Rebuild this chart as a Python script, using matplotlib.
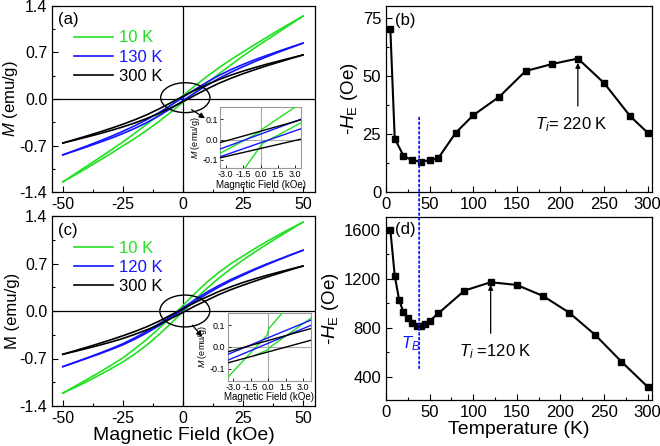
import matplotlib
matplotlib.use('Agg')
import matplotlib.pyplot as plt
from matplotlib.patches import Ellipse, ConnectionPatch
from matplotlib.ticker import MultipleLocator, FormatStrFormatter

plt.rcParams['font.family'] = ['Liberation Sans', 'DejaVu Sans']
plt.rcParams['mathtext.fontset'] = 'custom'
plt.rcParams['mathtext.rm'] = 'Liberation Sans'
plt.rcParams['mathtext.it'] = 'Liberation Sans:italic'
plt.rcParams['mathtext.bf'] = 'Liberation Sans:bold'
plt.rcParams['axes.unicode_minus'] = False

GREEN = '#22e022'
BLUE = '#1414ff'
BLACK = '#000000'

# ---------------- data: hysteresis loops (main panels) ----------------
H_main = [-50, -45, -40, -35, -30, -25, -20, -15, -10, -5, -2.5, 0,
          2.5, 5, 10, 15, 20, 25, 30, 35, 40, 45, 50]

# panel (a)
a_labels = ['10 K', '130 K', '300 K']
a_10K_up = [-1.248, -1.129, -1.010, -0.891, -0.771, -0.647, -0.514, -0.380, -0.239, -0.097, -0.024, 0.050,
            0.124, 0.197, 0.339, 0.470, 0.594, 0.707, 0.821, 0.931, 1.040, 1.145, 1.248]
a_10K_dn = [-1.248, -1.145, -1.040, -0.931, -0.821, -0.707, -0.594, -0.470, -0.339, -0.197, -0.124, -0.050,
            0.024, 0.097, 0.239, 0.380, 0.514, 0.647, 0.771, 0.891, 1.010, 1.129, 1.248]
a_130K_up = [-0.841, -0.774, -0.707, -0.637, -0.564, -0.486, -0.402, -0.310, -0.206, -0.093, -0.035, 0.025,
             0.085, 0.143, 0.254, 0.354, 0.442, 0.520, 0.592, 0.657, 0.721, 0.782, 0.841]
a_130K_dn = [-0.841, -0.782, -0.721, -0.657, -0.592, -0.520, -0.442, -0.354, -0.254, -0.143, -0.085, -0.025,
             0.035, 0.093, 0.206, 0.310, 0.402, 0.486, 0.564, 0.637, 0.707, 0.774, 0.841]
a_300K_up = [-0.663, -0.610, -0.556, -0.501, -0.442, -0.380, -0.312, -0.237, -0.150, -0.056, -0.007, 0.040,
             0.087, 0.132, 0.216, 0.293, 0.360, 0.420, 0.474, 0.525, 0.572, 0.618, 0.663]
a_300K_dn = [-0.663, -0.618, -0.572, -0.525, -0.474, -0.420, -0.360, -0.293, -0.216, -0.132, -0.087, -0.040,
             0.007, 0.056, 0.150, 0.237, 0.312, 0.380, 0.442, 0.501, 0.556, 0.610, 0.663]

# panel (c)
c_labels = ['10 K', '120 K', '300 K']
c_10K_up = [-1.210, -1.111, -1.011, -0.909, -0.803, -0.691, -0.557, -0.417, -0.258, -0.094, -0.007, 0.080,
            0.170, 0.258, 0.425, 0.570, 0.699, 0.810, 0.921, 1.025, 1.125, 1.219, 1.310]
c_10K_dn = [-1.210, -1.127, -1.041, -0.949, -0.853, -0.751, -0.633, -0.501, -0.348, -0.184, -0.097, -0.010,
            0.080, 0.168, 0.335, 0.486, 0.623, 0.750, 0.871, 0.985, 1.095, 1.203, 1.310]
c_120K_up = [-0.820, -0.756, -0.692, -0.626, -0.557, -0.483, -0.395, -0.300, -0.191, -0.075, -0.015, 0.045,
             0.106, 0.166, 0.278, 0.376, 0.465, 0.544, 0.621, 0.694, 0.762, 0.830, 0.895]
c_120K_dn = [-0.820, -0.760, -0.698, -0.636, -0.569, -0.499, -0.415, -0.322, -0.217, -0.101, -0.041, 0.019,
             0.080, 0.140, 0.252, 0.354, 0.445, 0.528, 0.609, 0.684, 0.756, 0.826, 0.895]
c_300K_up = [-0.638, -0.586, -0.534, -0.480, -0.424, -0.365, -0.302, -0.232, -0.151, -0.059, -0.014, 0.031,
             0.078, 0.125, 0.208, 0.288, 0.357, 0.420, 0.475, 0.526, 0.573, 0.619, 0.663]
c_300K_dn = [-0.638, -0.596, -0.552, -0.506, -0.458, -0.405, -0.344, -0.278, -0.201, -0.111, -0.066, -0.021,
             0.026, 0.073, 0.158, 0.242, 0.315, 0.380, 0.441, 0.500, 0.555, 0.609, 0.663]

# ---------------- data: insets (low-field region) ----------------
ia_10K_up_H = [-3.5, -0.05, 0.2, 3.0]
ia_10K_up_M = [-0.068, 0.037, 0.053, 0.16]
ia_10K_dn_H = [-1.35, -0.05, 0.2, 3.5]
ia_10K_dn_M = [-0.14, -0.037, -0.018, 0.082]
ia_130K_up_H = [-3.5, 3.5]
ia_130K_up_M = [-0.047, 0.10]
ia_130K_dn_H = [-3.5, 3.5]
ia_130K_dn_M = [-0.085, 0.053]
ia_300K_up_H = [-3.5, 3.5]
ia_300K_up_M = [-0.015, 0.097]
ia_300K_dn_H = [-3.5, 3.5]
ia_300K_dn_M = [-0.09, 0.002]

ic_10K_up_H = [-3.5, -0.1, 0.05, 1.25]
ic_10K_up_M = [-0.142, 0.055, 0.085, 0.16]
ic_10K_dn_H = [-1.2, 0.0, 0.17, 3.66]
ic_10K_dn_M = [-0.04, -0.012, 0.0, 0.133]
ic_120K_up_H = [-3.5, 3.66]
ic_120K_up_M = [-0.035, 0.124]
ic_120K_dn_H = [-3.5, 3.66]
ic_120K_dn_M = [-0.062, 0.100]
ic_300K_up_H = [-3.5, 3.66]
ic_300K_up_M = [-0.023, 0.085]
ic_300K_dn_H = [-3.5, 3.66]
ic_300K_dn_M = [-0.074, 0.031]

# ---------------- data: exchange bias vs temperature ----------------
T_b = [5, 10, 20, 30, 40, 50, 60, 80, 100, 130, 160, 190, 220, 250, 280, 300]
HE_b = [70, 23, 15.6, 13.6, 13.1, 13.6, 14.6, 25.5, 33, 41, 52, 55, 57.4, 46.9, 32.6, 25.5]

T_d = [5, 10, 15, 20, 25, 30, 35, 40, 45, 50, 60, 90, 120, 150, 180, 210, 240, 270, 300]
HE_d = [1600, 1226, 1030, 926, 883, 839, 815, 815, 831, 855, 918, 1104, 1172, 1150,
        1060, 924, 741, 523, 318]

T_B = 38

# ---------------- figure ----------------
fig = plt.figure(figsize=(6.6, 4.46), dpi=100)

def px_axes(l, r, t, b):
    W, Hh = 660.0, 446.0
    return fig.add_axes([l / W, 1 - b / Hh, (r - l) / W, (b - t) / Hh])

ax_a = px_axes(52, 315, 6, 192)
ax_c = px_axes(52, 315, 216, 406)
ax_b = px_axes(386, 652, 6, 192)
ax_d = px_axes(386, 652, 217, 400)

def style(ax, fs=11.5):
    ax.tick_params(which='both', direction='in', top=False, right=False, labelsize=fs)
    ax.tick_params(which='major', length=4, width=0.8)
    ax.tick_params(which='minor', length=2.5, width=0.8)
    for s in ax.spines.values():
        s.set_linewidth(0.9)

def loop_panel(ax, curves, labels, tag, ylab, ell, arr):
    ax.axhline(0, color='black', lw=0.9, zorder=1)
    ax.axvline(0, color='black', lw=0.9, zorder=1)
    cols = [GREEN, BLUE, BLACK]
    handles = []
    for (up, dn), col, lab in zip(curves, cols, labels):
        h, = ax.plot(H_main, up, color=col, lw=1.2, label=lab, zorder=3)
        ax.plot(H_main, dn, color=col, lw=1.2, zorder=3)
        handles.append(h)
    ax.set_xlim(-54.5, 55)
    ax.set_ylim(-1.4, 1.4)
    ax.xaxis.set_major_locator(MultipleLocator(25))
    ax.xaxis.set_minor_locator(MultipleLocator(12.5))
    ax.yaxis.set_major_locator(MultipleLocator(0.7))
    ax.yaxis.set_minor_locator(MultipleLocator(0.35))
    ax.yaxis.set_major_formatter(FormatStrFormatter('%.1f'))
    style(ax)
    ax.set_ylabel(ylab, fontsize=12)
    ax.yaxis.set_label_coords(-0.121, 0.5)
    ax.text(0.062, 0.925, tag, transform=ax.transAxes, fontsize=12, ha='center', va='center')
    ax.legend(handles=handles, loc='upper left', bbox_to_anchor=(0.06, 0.905),
              frameon=False, fontsize=12, handlelength=2.3, handletextpad=0.35,
              labelspacing=0.25, borderaxespad=0, labelcolor='linecolor')
    e = Ellipse(ell[0], ell[1], ell[2], fill=False, edgecolor='black', lw=1.0, zorder=4)
    ax.add_patch(e)
    ax.annotate('', xy=arr[1], xytext=arr[0],
                arrowprops=dict(arrowstyle='-|>', color='black', lw=0.9,
                                mutation_scale=8, shrinkA=0, shrinkB=0), zorder=5)

loop_panel(ax_a, [(a_10K_up, a_10K_dn), (a_130K_up, a_130K_dn), (a_300K_up, a_300K_dn)],
           a_labels, '(a)', r'$M$ (emu/g)', ((1.0, 0.02), 20.5, 0.45),
           ((3.6, -0.16), (9.2, -0.29)))
loop_panel(ax_c, [(c_10K_up, c_10K_dn), (c_120K_up, c_120K_dn), (c_300K_up, c_300K_dn)],
           c_labels, '(c)', 'M (emu/g)', ((0.8, 0.0), 20.8, 0.47),
           ((4.0, -0.21), (8.0, -0.38)))
ax_c.set_xlabel('Magnetic Field (kOe)', fontsize=14, labelpad=1)

# insets
def inset(rect_px, data, xlim, ylim):
    ax = px_axes(*rect_px)
    ax.axhline(0, color='#aaaaaa', lw=0.8, zorder=1)
    ax.axvline(0, color='#aaaaaa', lw=0.8, zorder=1)
    for (Hh, M), col in data:
        ax.plot(Hh, M, color=col, lw=1.0, zorder=3)
    ax.set_xlim(*xlim)
    ax.set_ylim(*ylim)
    ax.set_xticks([-3.0, -1.5, 0.0, 1.5, 3.0])
    ax.set_yticks([-0.1, 0.0, 0.1])
    ax.xaxis.set_major_formatter(FormatStrFormatter('%.1f'))
    ax.yaxis.set_major_formatter(FormatStrFormatter('%.1f'))
    ax.tick_params(direction='in', length=2, width=0.6, labelsize=6.5, pad=1.5,
                   colors='black')
    for s in ax.spines.values():
        s.set_color('#999999')
        s.set_linewidth(0.8)
    ax.set_xlabel('Magnetic Field (kOe)', fontsize=7, labelpad=0.5)
    ax.set_ylabel(r'$M$ (emu/g)', fontsize=6.5, labelpad=0.5)
    return ax

inset((220, 301, 107, 168),
      [((ia_10K_up_H, ia_10K_up_M), GREEN), ((ia_10K_dn_H, ia_10K_dn_M), GREEN),
       ((ia_130K_up_H, ia_130K_up_M), BLUE), ((ia_130K_dn_H, ia_130K_dn_M), BLUE),
       ((ia_300K_up_H, ia_300K_up_M), BLACK), ((ia_300K_dn_H, ia_300K_dn_M), BLACK)],
      (-3.5, 3.5), (-0.14, 0.16))
inset((227.5, 311, 312.5, 380.5),
      [((ic_10K_up_H, ic_10K_up_M), GREEN), ((ic_10K_dn_H, ic_10K_dn_M), GREEN),
       ((ic_120K_up_H, ic_120K_up_M), BLUE), ((ic_120K_dn_H, ic_120K_dn_M), BLUE),
       ((ic_300K_up_H, ic_300K_up_M), BLACK), ((ic_300K_dn_H, ic_300K_dn_M), BLACK)],
      (-3.5, 3.66), (-0.155, 0.159))

# panel (b)
ax_b.plot(T_b, HE_b, color='black', lw=1.5, marker='s', ms=5, zorder=3)
ax_b.set_xlim(0, 305)
ax_b.set_ylim(0, 80)
ax_b.xaxis.set_major_locator(MultipleLocator(50))
ax_b.xaxis.set_minor_locator(MultipleLocator(25))
ax_b.yaxis.set_major_locator(MultipleLocator(25))
ax_b.yaxis.set_minor_locator(MultipleLocator(12.5))
style(ax_b, 12)
ax_b.set_ylabel(r'-$H_{\mathrm{E}}$ (Oe)', fontsize=13.5, labelpad=2)
ax_b.text(22, 73.6, '(b)', fontsize=12, ha='center', va='center')
ax_b.annotate('', xy=(220, 55.5), xytext=(220, 37),
              arrowprops=dict(arrowstyle='-|>', color='black', lw=0.9,
                              mutation_scale=7, shrinkA=0, shrinkB=0))
ax_b.text(212, 29, r'$T_i$= 220 K', fontsize=12, ha='center', va='center')

# panel (d)
ax_d.plot(T_d, HE_d, color='black', lw=1.5, marker='s', ms=5, zorder=3)
ax_d.set_xlim(0, 305)
ax_d.set_ylim(210, 1705)
ax_d.xaxis.set_major_locator(MultipleLocator(50))
ax_d.xaxis.set_minor_locator(MultipleLocator(25))
ax_d.yaxis.set_major_locator(MultipleLocator(400))
ax_d.yaxis.set_minor_locator(MultipleLocator(200))
style(ax_d, 12)
ax_d.set_ylabel(r'-$H_{\mathrm{E}}$ (Oe)', fontsize=13.5, labelpad=2)
ax_d.set_xlabel('Temperature (K)', fontsize=14, labelpad=1)
ax_d.text(22, 1600, '(d)', fontsize=12, ha='center', va='center')
ax_d.annotate('', xy=(120, 1150), xytext=(120, 755),
              arrowprops=dict(arrowstyle='-|>', color='black', lw=0.9,
                              mutation_scale=7, shrinkA=0, shrinkB=0))
ax_d.text(126, 605, r'$T_i$ =120 K', fontsize=12, ha='center', va='center')
ax_d.text(28, 673, r'$T_B$', fontsize=12, color=BLUE, ha='center', va='center')

# blocking temperature line spanning panels (b) and (d)
con = ConnectionPatch(xyA=(T_B, 32), coordsA='data', axesA=ax_b,
                      xyB=(T_B, 470), coordsB='data', axesB=ax_d,
                      arrowstyle='-', color=BLUE, lw=1.3, linestyle=':', zorder=10)
fig.add_artist(con)

fig.savefig('out.png', dpi=100)
